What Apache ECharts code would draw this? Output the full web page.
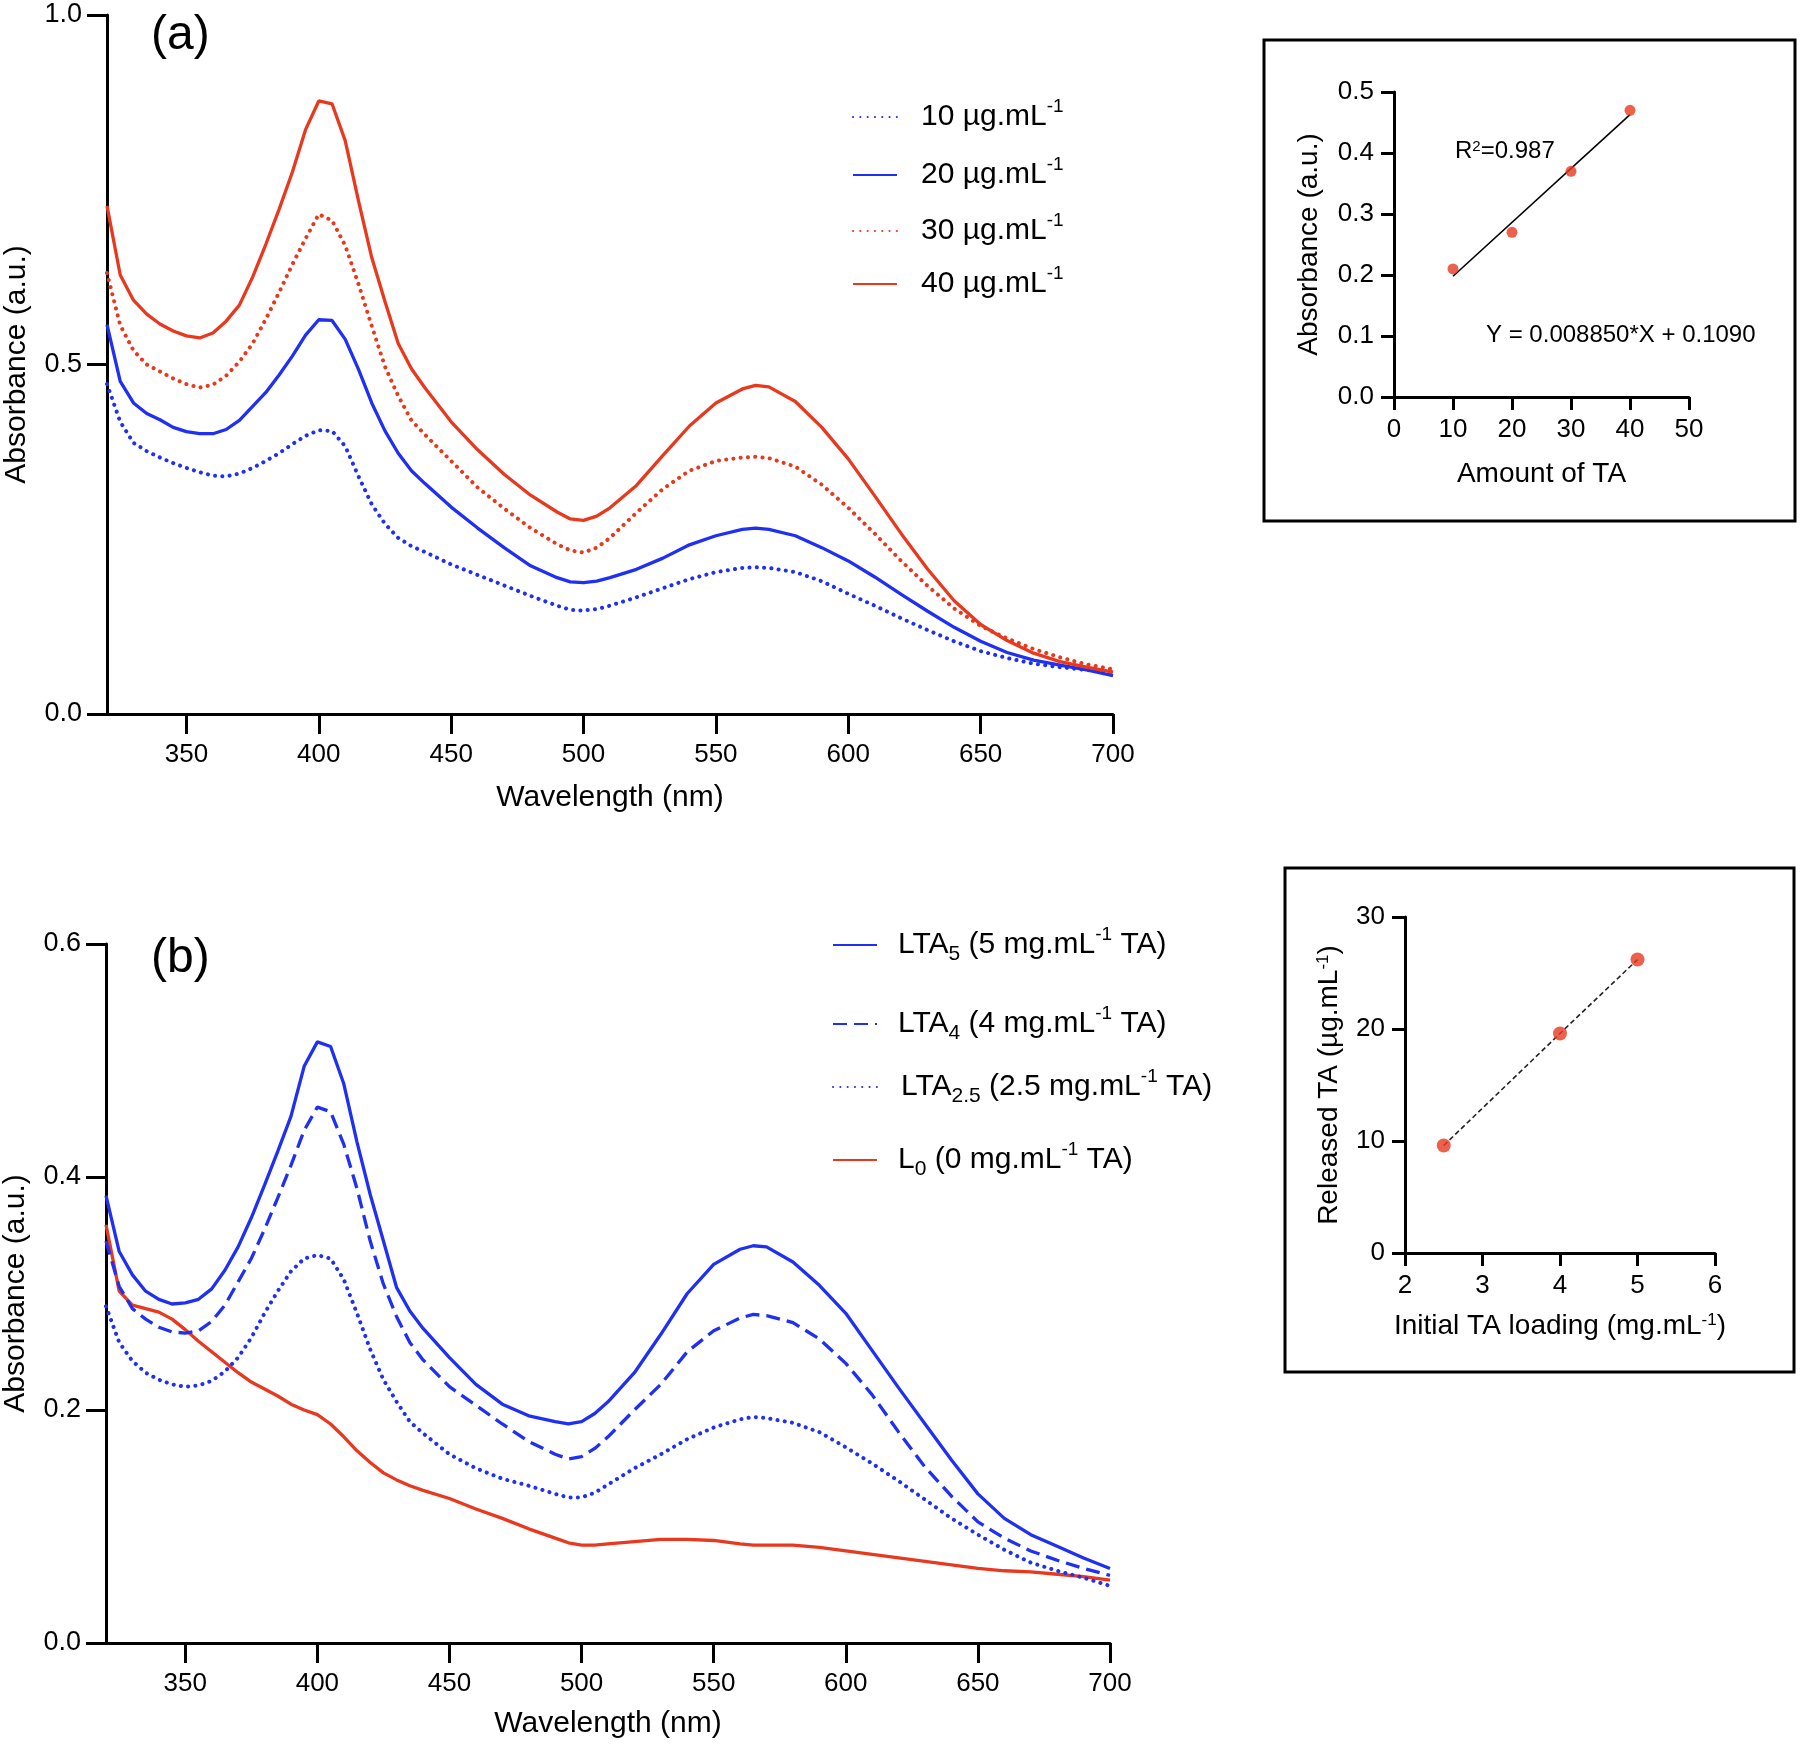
<!DOCTYPE html>
<html>
<head>
<meta charset="utf-8">
<script src="https://cdn.jsdelivr.net/npm/echarts@6/dist/echarts.min.js"></script>
<style>
html,body{margin:0;padding:0;background:#fff;}
#c{width:1800px;height:1747px;}
</style>
</head>
<body>
<div id="c"></div>
<script>
// ---------- DATA ----------
const wavelengths = [320,325,330,335,340,345,350,355,360,365,370,375,380,385,390,395,400,405,410,415,420,425,430,435,440,450,460,470,480,490,495,500,505,510,520,530,540,550,560,565,570,580,590,600,610,620,630,640,650,660,670,680,690,700];

// Panel (a): absorbance of TA standards
const a10 = [0.472,0.418,0.388,0.376,0.367,0.359,0.352,0.346,0.341,0.340,0.344,0.352,0.362,0.373,0.386,0.398,0.406,0.405,0.383,0.340,0.300,0.272,0.252,0.240,0.232,0.214,0.199,0.184,0.169,0.155,0.149,0.148,0.150,0.155,0.167,0.180,0.193,0.203,0.209,0.210,0.209,0.203,0.190,0.172,0.155,0.137,0.120,0.104,0.090,0.080,0.072,0.067,0.063,0.060];
const a20 = [0.557,0.476,0.445,0.430,0.421,0.410,0.404,0.401,0.401,0.407,0.420,0.440,0.460,0.485,0.512,0.542,0.564,0.563,0.536,0.493,0.445,0.405,0.373,0.348,0.330,0.296,0.266,0.238,0.212,0.195,0.189,0.188,0.190,0.195,0.207,0.223,0.242,0.255,0.264,0.266,0.264,0.255,0.238,0.219,0.196,0.171,0.147,0.124,0.104,0.088,0.077,0.070,0.063,0.055];
const a30 = [0.631,0.556,0.520,0.500,0.490,0.480,0.472,0.467,0.471,0.484,0.504,0.530,0.565,0.603,0.643,0.680,0.715,0.706,0.670,0.615,0.555,0.497,0.455,0.420,0.400,0.362,0.324,0.294,0.266,0.243,0.234,0.231,0.238,0.252,0.288,0.322,0.348,0.362,0.367,0.368,0.366,0.354,0.328,0.295,0.258,0.219,0.183,0.151,0.126,0.108,0.093,0.081,0.071,0.064];
const a40 = [0.727,0.628,0.592,0.572,0.558,0.548,0.541,0.538,0.545,0.562,0.585,0.625,0.672,0.722,0.775,0.836,0.877,0.873,0.820,0.734,0.653,0.590,0.530,0.494,0.467,0.418,0.378,0.343,0.313,0.289,0.279,0.277,0.283,0.295,0.327,0.370,0.412,0.445,0.465,0.470,0.468,0.447,0.410,0.365,0.312,0.258,0.207,0.162,0.128,0.105,0.087,0.075,0.067,0.060];

// Panel (b): released TA spectra
const bLTA5  = [0.384,0.336,0.316,0.302,0.295,0.291,0.292,0.295,0.304,0.320,0.340,0.365,0.393,0.422,0.452,0.495,0.516,0.512,0.480,0.430,0.385,0.345,0.305,0.285,0.270,0.245,0.222,0.205,0.195,0.190,0.188,0.190,0.197,0.207,0.232,0.265,0.300,0.325,0.338,0.341,0.340,0.327,0.307,0.283,0.251,0.219,0.188,0.157,0.128,0.107,0.093,0.083,0.073,0.064];
const bLTA4  = [0.345,0.306,0.287,0.278,0.271,0.267,0.266,0.268,0.276,0.290,0.310,0.330,0.355,0.382,0.410,0.440,0.460,0.456,0.428,0.390,0.345,0.308,0.280,0.258,0.243,0.220,0.204,0.188,0.173,0.162,0.158,0.160,0.167,0.177,0.200,0.222,0.250,0.268,0.279,0.282,0.281,0.275,0.261,0.240,0.213,0.181,0.151,0.126,0.104,0.090,0.079,0.071,0.064,0.058];
const bLTA25 = [0.289,0.258,0.242,0.232,0.226,0.222,0.220,0.221,0.225,0.233,0.245,0.262,0.283,0.302,0.319,0.330,0.333,0.330,0.312,0.283,0.252,0.226,0.207,0.190,0.180,0.162,0.150,0.141,0.135,0.128,0.125,0.125,0.129,0.136,0.150,0.162,0.175,0.185,0.192,0.194,0.193,0.189,0.181,0.168,0.154,0.139,0.123,0.107,0.093,0.080,0.069,0.062,0.056,0.049];
const bL0    = [0.359,0.302,0.290,0.287,0.284,0.278,0.269,0.259,0.250,0.241,0.232,0.224,0.218,0.212,0.205,0.200,0.196,0.188,0.177,0.165,0.155,0.146,0.140,0.135,0.131,0.124,0.115,0.107,0.098,0.090,0.086,0.084,0.084,0.085,0.087,0.089,0.089,0.088,0.085,0.084,0.084,0.084,0.082,0.079,0.076,0.073,0.070,0.067,0.064,0.062,0.061,0.059,0.057,0.054];

// Inset (a): calibration
const calibX = [10,20,30,40];
const calibY = [0.21,0.27,0.37,0.47];
const fitX = [10,40];
const fitY = [0.198,0.463];

// Inset (b): release vs loading
const loadX = [2.5,4,5];
const releasedY = [9.6,19.6,26.2];

// Tick labels
const wlTicks = [350,400,450,500,550,600,650,700];

// Legend names
const namesA = ['10 µg.mL-1','20 µg.mL-1','30 µg.mL-1','40 µg.mL-1'];
const namesB = ['LTA5 (5 mg.mL-1 TA)','LTA4 (4 mg.mL-1 TA)','LTA2.5 (2.5 mg.mL-1 TA)','L0 (0 mg.mL-1 TA)'];
const richNamesA = ['10 µg.mL{sup|-1}','20 µg.mL{sup|-1}','30 µg.mL{sup|-1}','40 µg.mL{sup|-1}'];
const richNamesB = ['LTA{sub|5} (5 mg.mL{sup|-1} TA)','LTA{sub|4} (4 mg.mL{sup|-1} TA)','LTA{sub|2.5} (2.5 mg.mL{sup|-1} TA)','L{sub|0} (0 mg.mL{sup|-1} TA)'];

// ---------- STYLE ----------
const FONT = 'Liberation Sans, Arial, Helvetica, sans-serif';
const RED = '#e8391f';
const BLUE = '#1f30f4';
const BLACK = '#000';
const dotted = [0.1, 7.2];
const dashed = [14, 7];

function pairs(xs, ys){ return xs.map((x,i)=>[x, ys[i]]); }

const richText = {
  sup: {fontSize: 19, fontFamily: FONT, color: BLACK, verticalAlign: 'top', lineHeight: 12},
  sub: {fontSize: 21, fontFamily: FONT, color: BLACK, verticalAlign: 'bottom', lineHeight: 12}
};

function mainX(gridIndex, nameGap){
  return {
    gridIndex, type: 'value', min: 320, max: 700,
    name: 'Wavelength (nm)', nameLocation: 'middle', nameGap,
    nameTextStyle: {fontFamily: FONT, fontSize: 30, color: BLACK},
    axisLine: {show: true, onZero: false, lineStyle: {color: BLACK, width: 3}},
    axisTick: {show: true, length: 20, lineStyle: {color: BLACK, width: 3}, customValues: wlTicks},
    axisLabel: {fontFamily: FONT, fontSize: 26, color: BLACK, margin: 28, customValues: wlTicks},
    splitLine: {show: false}
  };
}
function mainY(gridIndex, max, interval){
  return {
    gridIndex, type: 'value', min: 0, max, interval,
    name: 'Absorbance (a.u.)', nameLocation: 'middle', nameGap: 75,
    nameTextStyle: {fontFamily: FONT, fontSize: 30, color: BLACK},
    axisLine: {show: true, onZero: false, lineStyle: {color: BLACK, width: 3}},
    axisTick: {show: true, length: 20, lineStyle: {color: BLACK, width: 3}},
    axisLabel: {fontFamily: FONT, fontSize: 27, color: BLACK, margin: 25, formatter: v => v.toFixed(1)},
    splitLine: {show: false}
  };
}
function insetAxis(gridIndex, opts){
  return Object.assign({
    gridIndex, type: 'value', nameLocation: 'middle',
    nameTextStyle: {fontFamily: FONT, fontSize: 28, color: BLACK, rich: {
      sup: {fontSize: 17, fontFamily: FONT, color: BLACK, verticalAlign: 'top', lineHeight: 12}
    }},
    axisLine: {show: true, onZero: false, lineStyle: {color: BLACK, width: 3}},
    axisTick: {show: true, length: 13, lineStyle: {color: BLACK, width: 3}},
    axisLabel: {fontFamily: FONT, fontSize: 26, color: BLACK, margin: 20},
    splitLine: {show: false}
  }, opts);
}

function lineSeries(name, x, y, data, color, type){
  return {
    name, type: 'line', xAxisIndex: x, yAxisIndex: y, data,
    showSymbol: false, symbol: 'none', smooth: false, silent: true,
    lineStyle: {color, width: type === dotted ? 4 : 3.3, type, cap: type === dotted ? 'round' : 'butt'},
    itemStyle: {color},
    animation: false
  };
}

function legendAt(name, rich, left, centerY, textPad){
  return {
    data: [name], left, top: centerY - 20, padding: 0, orient: 'vertical',
    itemWidth: 44, itemHeight: 14, selectedMode: false,
    itemStyle: {opacity: 0},
    formatter: () => rich,
    textStyle: {fontFamily: FONT, fontSize: 30, color: BLACK, lineHeight: 40, padding: [0,0,0,textPad], rich: richText}
  };
}

const gridBase = {outerBoundsMode: 'none', containLabel: false};

const option = {
  backgroundColor: '#fff',
  animation: false,
  grid: [
    Object.assign({left: 107, top: 15, width: 1006, height: 699}, gridBase),
    Object.assign({left: 106, top: 944, width: 1004, height: 699}, gridBase),
    Object.assign({left: 1394, top: 92, width: 295, height: 305}, gridBase),
    Object.assign({left: 1405, top: 917, width: 310, height: 336}, gridBase)
  ],
  xAxis: [
    mainX(0, 69),
    mainX(1, 66),
    insetAxis(2, {min: 0, max: 50, interval: 10, name: 'Amount of TA', nameGap: 63}),
    insetAxis(3, {min: 2, max: 6, interval: 1, name: 'Initial TA loading (mg.mL{sup|-1})', nameGap: 59})
  ],
  yAxis: [
    mainY(0, 1.0, 0.5),
    mainY(1, 0.6, 0.2),
    insetAxis(2, {min: 0, max: 0.5, interval: 0.1, name: 'Absorbance (a.u.)', nameGap: 71,
      axisLabel: {fontFamily: FONT, fontSize: 26, color: BLACK, margin: 20, formatter: v => v.toFixed(1)}}),
    insetAxis(3, {min: 0, max: 30, interval: 10, name: 'Released TA (µg.mL{sup|-1})', nameGap: 62})
  ],
  legend: [
    legendAt(namesA[0], richNamesA[0], 852, 117, 19),
    legendAt(namesA[1], richNamesA[1], 852, 175, 19),
    legendAt(namesA[2], richNamesA[2], 852, 231, 19),
    legendAt(namesA[3], richNamesA[3], 852, 284, 19),
    legendAt(namesB[0], richNamesB[0], 832, 945, 16),
    legendAt(namesB[1], richNamesB[1], 832, 1024, 16),
    legendAt(namesB[2], richNamesB[2], 832, 1087, 19),
    legendAt(namesB[3], richNamesB[3], 832, 1160, 16)
  ],
  series: [
    lineSeries(namesA[0], 0, 0, pairs(wavelengths, a10), BLUE, dotted),
    lineSeries(namesA[1], 0, 0, pairs(wavelengths, a20), BLUE, 'solid'),
    lineSeries(namesA[2], 0, 0, pairs(wavelengths, a30), RED, dotted),
    lineSeries(namesA[3], 0, 0, pairs(wavelengths, a40), RED, 'solid'),
    lineSeries(namesB[3], 1, 1, pairs(wavelengths, bL0), RED, 'solid'),
    lineSeries(namesB[2], 1, 1, pairs(wavelengths, bLTA25), BLUE, dotted),
    lineSeries(namesB[1], 1, 1, pairs(wavelengths, bLTA4), BLUE, dashed),
    lineSeries(namesB[0], 1, 1, pairs(wavelengths, bLTA5), BLUE, 'solid'),
    {
      type: 'line', xAxisIndex: 2, yAxisIndex: 2, data: pairs(fitX, fitY),
      showSymbol: false, symbol: 'none', silent: true,
      lineStyle: {color: BLACK, width: 1.6}
    },
    {
      type: 'scatter', xAxisIndex: 2, yAxisIndex: 2, data: pairs(calibX, calibY),
      symbol: 'circle', symbolSize: 11, itemStyle: {color: RED}, silent: true, z: 5
    },
    {
      type: 'line', xAxisIndex: 3, yAxisIndex: 3, data: pairs(loadX, releasedY),
      showSymbol: false, symbol: 'none', silent: true,
      lineStyle: {color: '#222', width: 1.6, type: [5, 3]}
    },
    {
      type: 'scatter', xAxisIndex: 3, yAxisIndex: 3, data: pairs(loadX, releasedY),
      symbol: 'circle', symbolSize: 14, itemStyle: {color: RED}, silent: true, z: 5
    }
  ],
  graphic: [
    {type: 'text', left: 151, top: 12, style: {text: '(a)', fontFamily: FONT, fontSize: 48, fill: BLACK}},
    {type: 'text', left: 151, top: 935, style: {text: '(b)', fontFamily: FONT, fontSize: 48, fill: BLACK}},
    {type: 'rect', shape: {x: 1264, y: 40, width: 531, height: 481}, style: {fill: 'none', stroke: BLACK, lineWidth: 3}, silent: true},
    {type: 'rect', shape: {x: 1285, y: 868, width: 509, height: 504}, style: {fill: 'none', stroke: BLACK, lineWidth: 3}, silent: true},
    {type: 'text', left: 1455, top: 139, style: {text: 'R{sup|2}=0.987', fontFamily: FONT, fontSize: 24, fill: BLACK,
      rich: {sup: {fontSize: 15, fontFamily: FONT, fill: BLACK, verticalAlign: 'top', lineHeight: 10}}}},
    {type: 'text', left: 1486, top: 323, style: {text: 'Y = 0.008850*X + 0.1090', fontFamily: FONT, fontSize: 24, fill: BLACK}}
  ]
};

const chart = echarts.init(document.getElementById('c'), null, {renderer: 'canvas'});
chart.setOption(option);
</script>
</body>
</html>
